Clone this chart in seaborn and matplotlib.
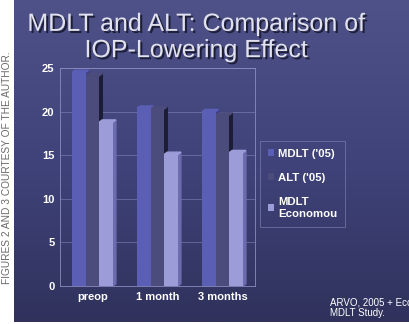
import numpy as np
import pandas as pd
import matplotlib
matplotlib.use("Agg")
import matplotlib.pyplot as plt
from matplotlib.patches import Polygon
from matplotlib.colors import LinearSegmentedColormap
import matplotlib.patheffects as pe
import seaborn as sns

categories = ["preop", "1 month", "3 months"]
series = ["MDLT ('05)", "ALT ('05)", "MDLT\nEconomou"]
mdlt_05 = [24.5, 20.4, 20.0]
alt_05 = [24.1, 20.3, 19.6]
mdlt_economou = [18.8, 15.1, 15.3]
yticks = [0, 5, 10, 15, 20, 25]
colors = ["#5a5eb4", "#4b4b7c", "#9c9cd8"]
side_colors = ["#3c3f86", "#1c1c34", "#6c6cae"]

df = pd.DataFrame({
    "category": categories * 3,
    "series": [series[0]] * 3 + [series[1]] * 3 + [series[2]] * 3,
    "value": mdlt_05 + alt_05 + mdlt_economou,
})

sns.set_theme(style="white")
plt.rcParams["font.family"] = ["Liberation Sans", "DejaVu Sans"]

fig = plt.figure(figsize=(4.09, 3.24), dpi=100)
fig.patch.set_facecolor("white")

# slide background with gradient
bg = fig.add_axes([14 / 409, 0.005, 1 - 14 / 409, 0.995])
grad = np.linspace(0, 1, 256).reshape(-1, 1)
cm = LinearSegmentedColormap.from_list("bg", ["#4e5288", "#40437a", "#30325c"])
bg.imshow(grad, aspect="auto", cmap=cm, extent=[0, 1, 0, 1], origin="upper")
bg.set_axis_off()

fig.text(7 / 409, 1 - 168 / 324, "FIGURES 2 AND 3 COURTESY OF THE AUTHOR.", rotation=90,
         ha="center", va="center", fontsize=7.3, color="#6a6a6a")

# title with shadow
title = "MDLT and ALT: Comparison of\nIOP-Lowering Effect"
fig.text(196 / 409, 1 - 37 / 324, title, ha="center", va="center",
         fontsize=18, color="#e2e2ec", linespacing=1.12,
         path_effects=[pe.SimplePatchShadow(offset=(1.5, -1.5), shadow_rgbFace="#181930", alpha=0.9),
                       pe.Normal()])

ax = fig.add_axes([60 / 409, 1 - 286 / 324, 195 / 409, 218 / 324])
ax.patch.set_alpha(0)
sns.barplot(data=df, x="category", y="value", hue="series", palette=colors,
            width=0.63, ax=ax, legend=True, saturation=1, edgecolor="none")

ax.set_ylim(0, 25)
ax.set_yticks(yticks)
ax.set_xlabel("")
ax.set_ylabel("")
for y in yticks[1:]:
    ax.axhline(y, color="#8a8cc0", lw=0.6, alpha=0.6, zorder=0)
for s in ax.spines.values():
    s.set_color("#8a8cc0")
    s.set_linewidth(0.6)
ax.tick_params(axis="both", colors="white", labelsize=8, length=0, pad=4)
for lab in ax.get_xticklabels() + ax.get_yticklabels():
    lab.set_fontweight("bold")
    lab.set_color("white")

# 3D side and top faces derived from the bars
dx, dy = 0.045, 0.25
for i, container in enumerate(ax.containers):
    for p in container:
        x0, w, h = p.get_x(), p.get_width(), p.get_height()
        x1 = x0 + w
        side = Polygon([(x1, 0), (x1 + dx, dy), (x1 + dx, h + dy), (x1, h)],
                       closed=True, color=side_colors[i], zorder=p.get_zorder() - 0.1)
        top = Polygon([(x0, h), (x0 + dx, h + dy), (x1 + dx, h + dy), (x1, h)],
                      closed=True, color=colors[i], zorder=p.get_zorder() - 0.1)
        ax.add_patch(side)
        ax.add_patch(top)

leg = ax.legend(loc="upper left", bbox_to_anchor=(263 / 409, 1 - 144 / 324),
                bbox_transform=fig.transFigure, frameon=True, fontsize=8.2,
                handlelength=0.6, handleheight=0.6, handletextpad=0.3,
                labelspacing=1.25, borderpad=0.4, borderaxespad=0)
leg.get_frame().set_facecolor("none")
leg.get_frame().set_edgecolor("#7a7cae")
leg.get_frame().set_linewidth(0.6)
leg.get_frame().set_boxstyle("square")
for t in leg.get_texts():
    t.set_color("white")
    t.set_fontweight("bold")

fig.text(330 / 409, 1 - 308 / 324, "ARVO, 2005 + Eco\nMDLT Study.", ha="left",
         va="center", fontsize=7, color="white", linespacing=1.1)

fig.savefig("out.png", dpi=100, facecolor=fig.get_facecolor())
